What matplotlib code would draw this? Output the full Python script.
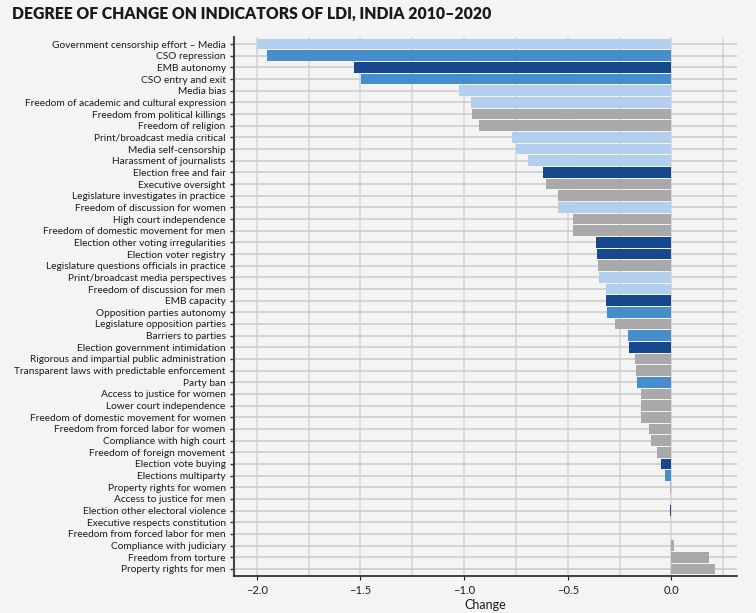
import numpy as np
import matplotlib.pyplot as plt
from matplotlib.ticker import MultipleLocator

# indicators, ordered top to bottom as drawn
indicators = [
    "Government censorship effort \u2013 Media",
    "CSO repression",
    "EMB autonomy",
    "CSO entry and exit",
    "Media bias",
    "Freedom of academic and cultural expression",
    "Freedom from political killings",
    "Freedom of religion",
    "Print/broadcast media critical",
    "Media self-censorship",
    "Harassment of journalists",
    "Election free and fair",
    "Executive oversight",
    "Legislature investigates in practice",
    "Freedom of discussion for women",
    "High court independence",
    "Freedom of domestic movement for men",
    "Election other voting irregularities",
    "Election voter registry",
    "Legislature questions officials in practice",
    "Print/broadcast media perspectives",
    "Freedom of discussion for men",
    "EMB capacity",
    "Opposition parties autonomy",
    "Legislature opposition parties",
    "Barriers to parties",
    "Election government intimidation",
    "Rigorous and impartial public administration",
    "Transparent laws with predictable enforcement",
    "Party ban",
    "Access to justice for women",
    "Lower court independence",
    "Freedom of domestic movement for women",
    "Freedom from forced labor for women",
    "Compliance with high court",
    "Freedom of foreign movement",
    "Election vote buying",
    "Elections multiparty",
    "Property rights for women",
    "Access to justice for men",
    "Election other electoral violence",
    "Executive respects constitution",
    "Freedom from forced labor for men",
    "Compliance with judiciary",
    "Freedom from torture",
    "Property rights for men",
]

change = [
    -2.00, -1.95, -1.53, -1.495, -1.026, -0.968, -0.964, -0.930,
    -0.771, -0.748, -0.693, -0.621, -0.607, -0.549, -0.549, -0.476,
    -0.476, -0.365, -0.360, -0.356, -0.351, -0.317, -0.317, -0.312,
    -0.273, -0.211, -0.206, -0.177, -0.172, -0.167, -0.148, -0.148,
    -0.148, -0.109, -0.100, -0.071, -0.051, -0.032, -0.007, -0.004,
    -0.005, -0.002, -0.002, 0.013, 0.182, 0.211,
]

group = [
    "media", "civil", "elect", "civil", "media", "media", "other", "other",
    "media", "media", "media", "elect", "other", "other", "media", "other",
    "other", "elect", "elect", "other", "media", "media", "elect", "civil",
    "other", "civil", "elect", "other", "other", "civil", "other", "other",
    "other", "other", "other", "other", "elect", "civil", "other", "other",
    "elect", "other", "other", "other", "other", "other",
]

colors = {"media": "#b2cfed", "civil": "#468dcb", "elect": "#17488e", "other": "#a9a9a9"}

plt.rcParams['font.family'] = ['Lato', 'DejaVu Sans']

fig = plt.figure(figsize=(7.56, 6.13), dpi=100, facecolor="#f4f4f4")
ax = fig.add_axes([0.3095, 0.0604, 0.6655, 0.8792])
ax.set_facecolor("#f4f4f4")

y = np.arange(len(indicators))
ax.barh(y, change, height=0.93, color=[colors[g] for g in group],
        linewidth=0, zorder=3)

ax.set_yticks(y)
ax.set_yticklabels(indicators, fontsize=7.3, color="#1a1a1a")
ax.set_ylim(len(indicators) - 0.4, -0.6)
ax.set_xlim(-2.11, 0.317)

ax.xaxis.set_major_locator(MultipleLocator(0.5))
ax.xaxis.set_minor_locator(MultipleLocator(0.25))
ax.set_xticklabels([f"{v:.1f}".replace("-", "\u2212") for v in ax.get_xticks()])
ax.tick_params(axis="x", labelsize=8, colors="#1a1a1a", length=3)
ax.tick_params(axis="x", which="minor", length=0)
ax.tick_params(axis="y", length=3, width=1, color="#333333", pad=3)

ax.grid(axis="x", which="both", color="#d6d6d6", linewidth=1.2, zorder=0)
ax.grid(axis="y", color="#cdcdcd", linewidth=1.2, zorder=0)
ax.set_axisbelow(True)

for s in ["top", "right"]:
    ax.spines[s].set_visible(False)
ax.spines["left"].set_color("#444444")
ax.spines["left"].set_linewidth(1.5)
ax.spines["bottom"].set_color("#222222")
ax.spines["bottom"].set_linewidth(1.2)

ax.set_xlabel("Change", fontsize=9, color="#1a1a1a", labelpad=2)

fig.text(0.016, 0.977, "DEGREE OF CHANGE ON INDICATORS OF LDI, INDIA 2010\u20132020",
         fontsize=11.3, fontweight="heavy", color="#1a1a1a", va="center", ha="left")

fig.savefig("out.png", dpi=100, facecolor=fig.get_facecolor())
